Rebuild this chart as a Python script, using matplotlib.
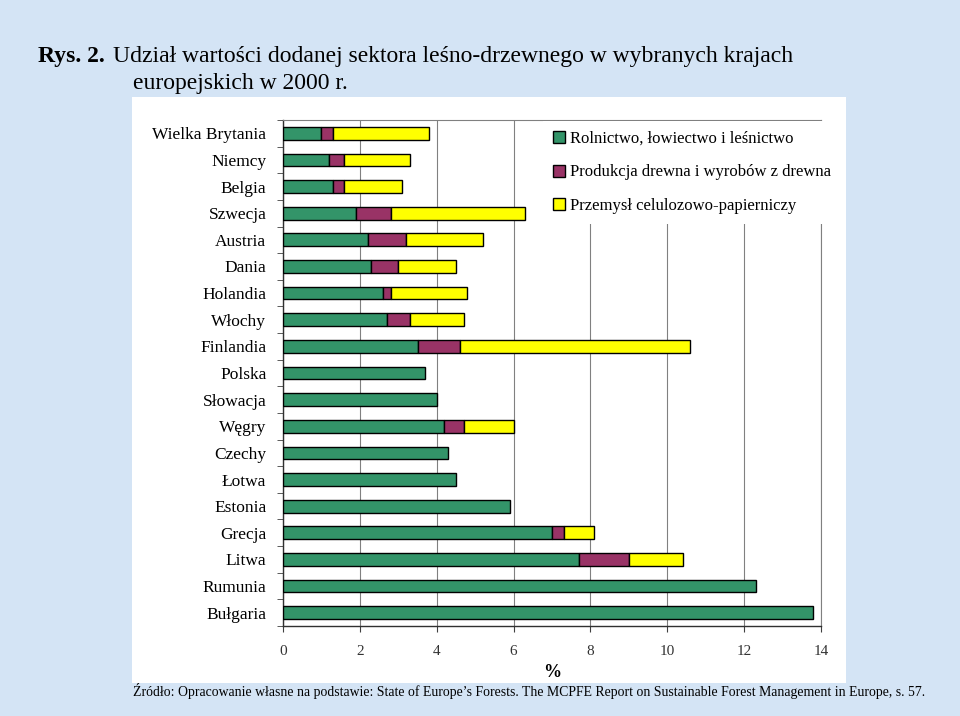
import matplotlib
matplotlib.use("Agg")
import matplotlib.pyplot as plt
from matplotlib.ticker import FixedLocator
import numpy as np

countries = ["Wielka Brytania", "Niemcy", "Belgia", "Szwecja", "Austria", "Dania",
             "Holandia", "Włochy", "Finlandia", "Polska", "Słowacja", "Węgry",
             "Czechy", "Łotwa", "Estonia", "Grecja", "Litwa", "Rumunia", "Bułgaria"]
rolnictwo = [1.0, 1.2, 1.3, 1.9, 2.2, 2.3, 2.6, 2.7, 3.5, 3.7, 4.0, 4.2,
             4.3, 4.5, 5.9, 7.0, 7.7, 12.3, 13.8]
produkcja = [0.3, 0.4, 0.3, 0.9, 1.0, 0.7, 0.2, 0.6, 1.1, 0.0, 0.0, 0.5,
             0.0, 0.0, 0.0, 0.3, 1.3, 0.0, 0.0]
przemysl = [2.5, 1.7, 1.5, 3.5, 2.0, 1.5, 2.0, 1.4, 6.0, 0.0, 0.0, 1.3,
            0.0, 0.0, 0.0, 0.8, 1.4, 0.0, 0.0]
series_names = ["Rolnictwo, łowiectwo i leśnictwo",
                "Produkcja drewna i wyrobów z drewna",
                "Przemysł celulozowo-papierniczy"]
colors = ["#339469", "#993366", "#FFFF00"]
x_ticks = [0, 2, 4, 6, 8, 10, 12, 14]

plt.rcParams['font.family'] = ['Liberation Serif', 'DejaVu Serif']

W, H = 960, 716
fig = plt.figure(figsize=(W / 100, H / 100), dpi=100)
fig.patch.set_facecolor('#d4e4f5')

# white chart panel (behind everything)
panel = fig.add_axes([132 / W, 1 - 683 / H, (846 - 132) / W, (683 - 97) / H], zorder=-10)
panel.set_facecolor('white')
panel.set_xticks([])
panel.set_yticks([])
for s in panel.spines.values():
    s.set_visible(False)

ax = fig.add_axes([283 / W, 1 - 626 / H, (821 - 283) / W, (626 - 120) / H])
ax.set_facecolor('white')

y = np.arange(len(countries))
r = np.array(rolnictwo)
p = np.array(produkcja)
z = np.array(przemysl)

def draw(vals, left, color, label):
    idx = vals > 0
    ax.barh(y[idx], vals[idx], left=left[idx], height=0.48, color=color,
            edgecolor='black', linewidth=1.0, label=label, zorder=3)

draw(r, np.zeros_like(r), colors[0], series_names[0])
draw(p, r, colors[1], series_names[1])
draw(z, r + p, colors[2], series_names[2])

ax.set_xlim(0, 14)
ax.set_ylim(len(countries) - 0.5, -0.5)
ax.xaxis.set_major_locator(FixedLocator(x_ticks))
ax.set_xticklabels([str(t) for t in x_ticks], fontsize=11, color='#333333')
ax.grid(axis='x', color='#808080', linewidth=0.8, zorder=0)
ax.set_axisbelow(True)

ax.set_yticks(y)
ax.set_yticklabels(countries, fontsize=12.5)
ax.yaxis.set_minor_locator(FixedLocator(np.arange(-0.5, len(countries), 1.0)))
ax.tick_params(axis='y', which='major', length=0, pad=12)
ax.tick_params(axis='y', which='minor', length=4, direction='out', color='#404040')
ax.tick_params(axis='x', which='major', length=4, direction='out', color='#404040', pad=10)

for s in ['left', 'bottom']:
    ax.spines[s].set_color('#303030')
    ax.spines[s].set_linewidth(1.0)
ax.spines['top'].set_color('#808080')
ax.spines['top'].set_linewidth(0.8)
ax.spines['right'].set_color('#808080')
ax.spines['right'].set_linewidth(0.8)

ax.set_xlabel('%', fontsize=13, fontweight='bold', labelpad=4)

leg = fig.legend(loc='upper left', bbox_to_anchor=(543 / W, 1 - 121 / H),
                 fontsize=12, frameon=True, fancybox=False, framealpha=1,
                 handlelength=0.7, handleheight=0.7, handletextpad=0.3,
                 labelspacing=1.05, borderpad=0.6, borderaxespad=0)
leg.get_frame().set_facecolor('white')
leg.get_frame().set_edgecolor('none')
leg.set_zorder(10)

# title
fig.text(38 / W, 1 - 62 / H, "Rys. 2.", fontsize=17, fontweight='bold', ha='left', va='baseline')
fig.text(113 / W, 1 - 62 / H, "Udział wartości dodanej sektora leśno-drzewnego w wybranych krajach",
         fontsize=17, ha='left', va='baseline')
fig.text(133 / W, 1 - 89 / H, "europejskich w 2000 r.", fontsize=17, ha='left', va='baseline')

# footer
fig.text(133 / W, 1 - 696 / H,
         "Źródło: Opracowanie własne na podstawie: State of Europe’s Forests. The MCPFE Report on Sustainable Forest Management in Europe, s. 57.",
         fontsize=9.9, ha='left', va='baseline')

fig.savefig('out.png', dpi=100, facecolor=fig.get_facecolor())
